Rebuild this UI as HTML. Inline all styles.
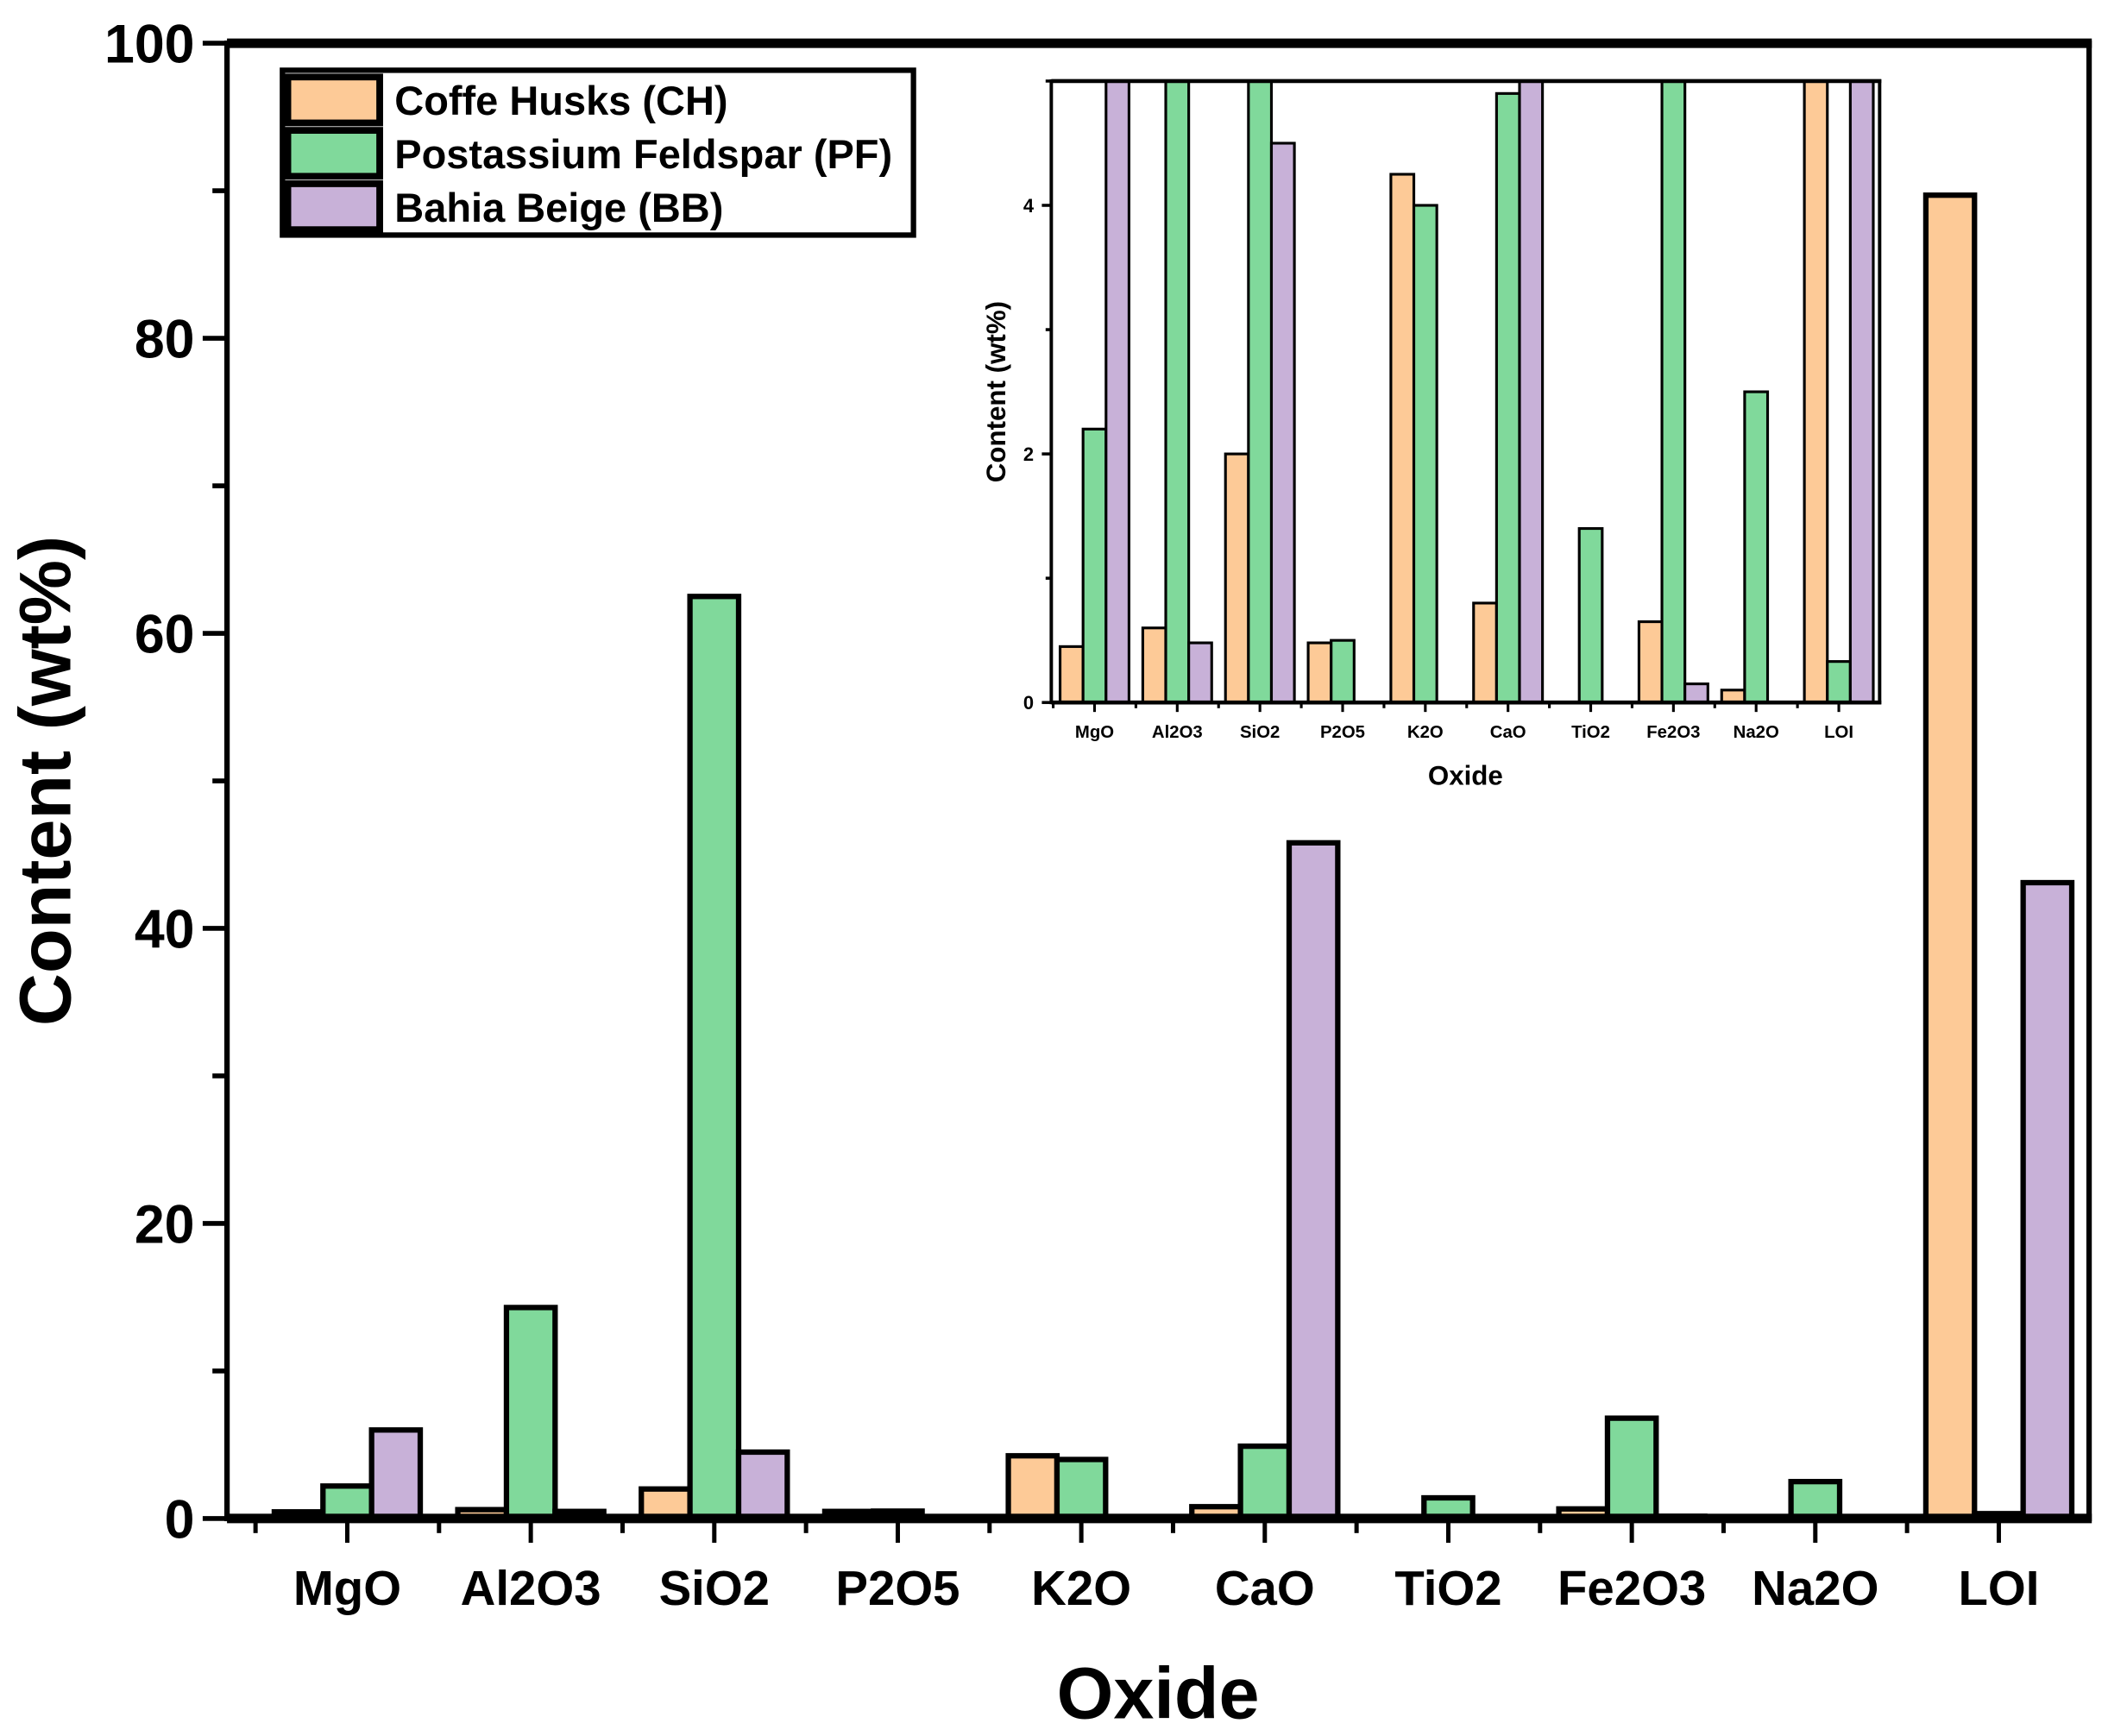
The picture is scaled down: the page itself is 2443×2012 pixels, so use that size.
<!DOCTYPE html>
<html><head><meta charset="utf-8"><style>
html,body{margin:0;padding:0;background:#fff}
svg{display:block}
text{font-family:"Liberation Sans",Arial,sans-serif;font-weight:bold;fill:#000}
</style></head><body>
<svg id="chart" width="2443" height="2012" viewBox="0 0 1560 1285" preserveAspectRatio="none" xmlns="http://www.w3.org/2000/svg">
<g id="main"></g>
<g id="inset"></g>
<g id="legend"></g>
</svg>
<script>
const categories = ["MgO","Al2O3","SiO2","P2O5","K2O","CaO","TiO2","Fe2O3","Na2O","LOI"];
const seriesNames = ["Coffe Husks (CH)","Postassium Feldspar (PF)","Bahia Beige (BB)"];
const chValues = [0.45,0.6,2.0,0.48,4.25,0.8,0,0.65,0.1,89.7];
const pfValues = [2.2,14.3,62.5,0.5,4.0,4.9,1.4,6.8,2.5,0.33];
const bbValues = [6.0,0.48,4.5,0,0,45.8,0,0.15,0,43.1];
const mainTicks = [0,20,40,60,80,100];
const insetTicks = [0,2,4];
const colors = ["#fdca97","#80d99b","#c8b1d8"];

const NS = "http://www.w3.org/2000/svg";
function mk(tag, attrs, parent){
  const e = document.createElementNS(NS, tag);
  for (const k in attrs) e.setAttribute(k, attrs[k]);
  parent.appendChild(e);
  return e;
}
const series = [chValues, pfValues, bbValues];

function drawPlot(g, o){
  const y = v => o.y0 - (v / o.ymax) * (o.y0 - o.top);
  const x = i => o.c0 + i * o.step;
  mk("rect",{x:o.left,y:o.top,width:o.right-o.left,height:o.y0-o.top,fill:"#fff"},g);
  series.forEach((vals, s) => {
    vals.forEach((v, i) => {
      const vv = Math.min(v, o.ymax);
      const top = y(vv);
      const r = mk("rect",{x:x(i)+(s-1.5)*o.bw, y:top, width:o.bw, height:Math.max(o.y0-top,0), fill:colors[s], stroke:"#000","stroke-width":o.sw},g);
      
      
    });
  });
  // frame
  const f = mk("rect",{x:o.left,y:o.top,width:o.right-o.left,height:o.y0-o.top,fill:"none",stroke:"#000","stroke-width":o.fw},g);
  
  
  mk("line",{x1:o.left,x2:o.right+o.fw/2,y1:o.top,y2:o.top,stroke:"#000","stroke-width":o.hw},g);
  mk("line",{x1:o.left,x2:o.right+o.fw/2,y1:o.y0,y2:o.y0,stroke:"#000","stroke-width":o.hw},g);
  for (let v = 0; v <= o.ymax + 1e-9; v += o.minor) {
    const isMajor = o.ticks.some(t => Math.abs(t - v) < 1e-9);
    mk("line",{x1:o.left-(isMajor?o.tlen:o.tlen*0.6),x2:o.left,y1:y(v),y2:y(v),stroke:"#000","stroke-width":o.fw*0.9},g);
  }
  o.ticks.forEach(t => {
    const tx = mk("text",{x:o.left-o.tlen-6,y:y(t)+o.tfs*0.36,"text-anchor":"end","font-size":o.tfs},g);
    tx.textContent = t;
    
    
  });
  categories.forEach((c, i) => {
    mk("line",{x1:x(i),x2:x(i),y1:o.y0,y2:o.y0+o.tlen,stroke:"#000","stroke-width":o.fw*0.8},g);
    mk("line",{x1:x(i)-o.step/2,x2:x(i)-o.step/2,y1:o.y0,y2:o.y0+o.tlen*0.6,stroke:"#000","stroke-width":o.fw*0.8},g);
    const tx = mk("text",{x:x(i),y:o.y0+o.xlabOff,"text-anchor":"middle","font-size":o.xfs},g);
    tx.textContent = c;
    
    
  });
  const xt = mk("text",{x:(o.left+o.right)/2,y:o.xtitleY,"text-anchor":"middle","font-size":o.titleFs},g);
  xt.textContent = "Oxide";
  
  
  const yt = mk("text",{x:0,y:0,"text-anchor":"middle","font-size":o.titleFs,transform:`translate(${o.ytitleX},${(o.top+o.y0)/2}) rotate(-90)`},g);
  yt.textContent = "Content (wt%)";
  
  
}

drawPlot(document.getElementById("main"), {
  name:"main", left:168, right:1546, top:32, y0:1124, ymax:100, ticks:mainTicks, minor:10,
  c0:257, step:135.8, bw:36, sw:4, fw:4, hw:7, tlen:18, tfs:40, xfs:36, xlabOff:64,
  titleFs:54, xtitleY:1272, ytitleX:52
});
drawPlot(document.getElementById("inset"), {
  name:"inset", left:778, right:1391, top:60, y0:520, ymax:5, ticks:insetTicks, minor:1,
  c0:810, step:61.2, bw:17, sw:2, fw:2.5, hw:3, tlen:7, tfs:14, xfs:13, xlabOff:26,
  titleFs:20, xtitleY:581, ytitleX:744
});

const lg = document.getElementById("legend");
mk("rect",{x:209,y:52,width:467,height:122,fill:"#fff",stroke:"#000","stroke-width":4},lg);
seriesNames.forEach((n, s) => {
  const yy = 55 + s*39.5;
  const sw = mk("rect",{x:213,y:yy+2,width:68,height:34,fill:colors[s],stroke:"#000","stroke-width":5},lg);
  
  
  const t = mk("text",{x:292,y:yy+30,"font-size":30},lg);
  t.textContent = n;
  
  
});
</script>
</body></html>
